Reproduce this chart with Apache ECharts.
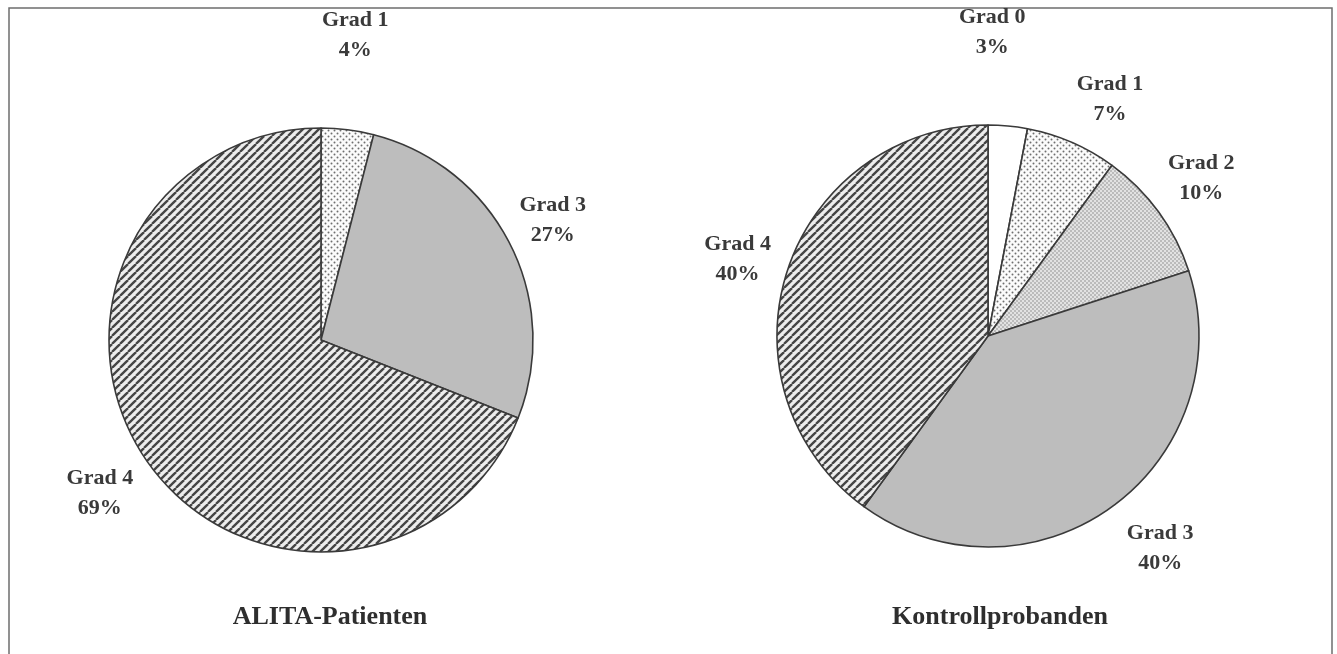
<!DOCTYPE html>
<html>
<head>
<meta charset="utf-8">
<title>Grad-Verteilung</title>
<script src="https://cdn.jsdelivr.net/npm/echarts@6/dist/echarts.min.js"></script>
<style>
  html, body { margin: 0; padding: 0; background: #ffffff; }
  #chart { width: 1337px; height: 654px; }
</style>
</head>
<body>
<div id="chart"></div>
<script>
// Patient group
const patientTitle = 'ALITA-Patienten';
const patientGrades = ['Grad 1', 'Grad 3', 'Grad 4'];
const patientShares = [4, 27, 69];

// Control group
const controlTitle = 'Kontrollprobanden';
const controlGrades = ['Grad 0', 'Grad 1', 'Grad 2', 'Grad 3', 'Grad 4'];
const controlShares = [3, 7, 10, 40, 40];

// ---- fill patterns -------------------------------------------------------
function makeTile(w, h, draw) {
  const c = document.createElement('canvas');
  c.width = w; c.height = h;
  draw(c.getContext('2d'), w, h);
  return { image: c, repeat: 'repeat' };
}

// diagonal "/" hatching
const hatch = makeTile(8, 8, (ctx, s) => {
  ctx.fillStyle = '#ededed';
  ctx.fillRect(0, 0, s, s);
  ctx.strokeStyle = '#444444';
  ctx.lineWidth = 2.3;
  for (let k = -1; k <= 1; k++) {
    ctx.beginPath();
    ctx.moveTo(k * s, s);
    ctx.lineTo(k * s + s, 0);
    ctx.stroke();
  }
});

// sparse dots on white
const sparseDots = makeTile(6, 6, (ctx, s) => {
  ctx.fillStyle = '#fbfbfb';
  ctx.fillRect(0, 0, s, s);
  ctx.fillStyle = '#6e6e6e';
  [[1.5, 1.5], [4.5, 4.5]].forEach(([x, y]) => {
    ctx.beginPath(); ctx.arc(x, y, 1.0, 0, Math.PI * 2); ctx.fill();
  });
});

// dense dots on light grey
const denseDots = makeTile(4, 4, (ctx, s) => {
  ctx.fillStyle = '#e2e2e2';
  ctx.fillRect(0, 0, s, s);
  ctx.fillStyle = '#8a8a8a';
  [[1, 1], [3, 3]].forEach(([x, y]) => {
    ctx.beginPath(); ctx.arc(x, y, 0.8, 0, Math.PI * 2); ctx.fill();
  });
});

const fills = {
  'Grad 0': '#ffffff',
  'Grad 1': sparseDots,
  'Grad 2': denseDots,
  'Grad 3': '#bdbdbd',
  'Grad 4': hatch
};

// ---- geometry and label placement -----------------------------------------
// labelGap: distance of the label block centre beyond the rim (px)
// labelTurn: small angular nudge of the label off the slice middle (deg)
const pies = [
  { title: patientTitle, names: patientGrades, values: patientShares,
    center: [321, 340], radius: 212,
    labelGap: [95, 49, 57], labelTurn: [-0.8, -0.4, -0.5] },
  { title: controlTitle, names: controlGrades, values: controlShares,
    center: [988, 336], radius: 211,
    labelGap: [93, 55, 54, 62, 51], labelTurn: [-4.6, 3.9, -0.4, -3.1, -0.9] }
];

function labelPlacer(pie) {
  const total = pie.values.reduce((a, b) => a + b, 0);
  return function (params) {
    const i = params.dataIndex;
    let before = 0;
    for (let k = 0; k < i; k++) before += pie.values[k];
    const mid = (before + pie.values[i] / 2) / total * Math.PI * 2
      + pie.labelTurn[i] * Math.PI / 180;
    const d = pie.radius + pie.labelGap[i];
    return {
      x: pie.center[0] + d * Math.sin(mid),
      y: pie.center[1] - d * Math.cos(mid),
      align: 'center',
      verticalAlign: 'middle'
    };
  };
}

const serif = '"Liberation Serif", "DejaVu Serif", serif';

const series = pies.map(pie => ({
  type: 'pie',
  center: pie.center,
  radius: pie.radius,
  startAngle: 90,
  clockwise: true,
  animation: false,
  silent: true,
  avoidLabelOverlap: false,
  itemStyle: { borderColor: '#3a3a3a', borderWidth: 1.6 },
  label: {
    show: true,
    position: 'outside',
    formatter: '{b}\n{c}%',
    align: 'center',
    fontFamily: serif,
    fontWeight: 'bold',
    fontSize: 22,
    lineHeight: 30,
    color: '#3a3a3a'
  },
  labelLine: { show: false },
  labelLayout: labelPlacer(pie),
  emphasis: { disabled: true },
  data: pie.names.map((n, i) => ({
    name: n,
    value: pie.values[i],
    itemStyle: { color: fills[n] }
  }))
}));

const titles = [
  { text: patientTitle, left: 325 },
  { text: controlTitle, left: 995 }
].map(t => ({
  text: t.text,
  left: t.left,
  top: 599,
  textAlign: 'center',
  textStyle: {
    fontFamily: serif,
    fontWeight: 'bold',
    fontSize: 26,
    color: '#2e2e2e'
  }
}));

const chart = echarts.init(document.getElementById('chart'), null, { renderer: 'canvas' });
chart.setOption({
  backgroundColor: '#ffffff',
  animation: false,
  title: titles,
  graphic: [{
    type: 'rect',
    shape: { x: 9, y: 8, width: 1323, height: 700 },
    style: { fill: 'none', stroke: '#6e6e6e', lineWidth: 1.5 },
    silent: true
  }],
  series: series
});
</script>
</body>
</html>
